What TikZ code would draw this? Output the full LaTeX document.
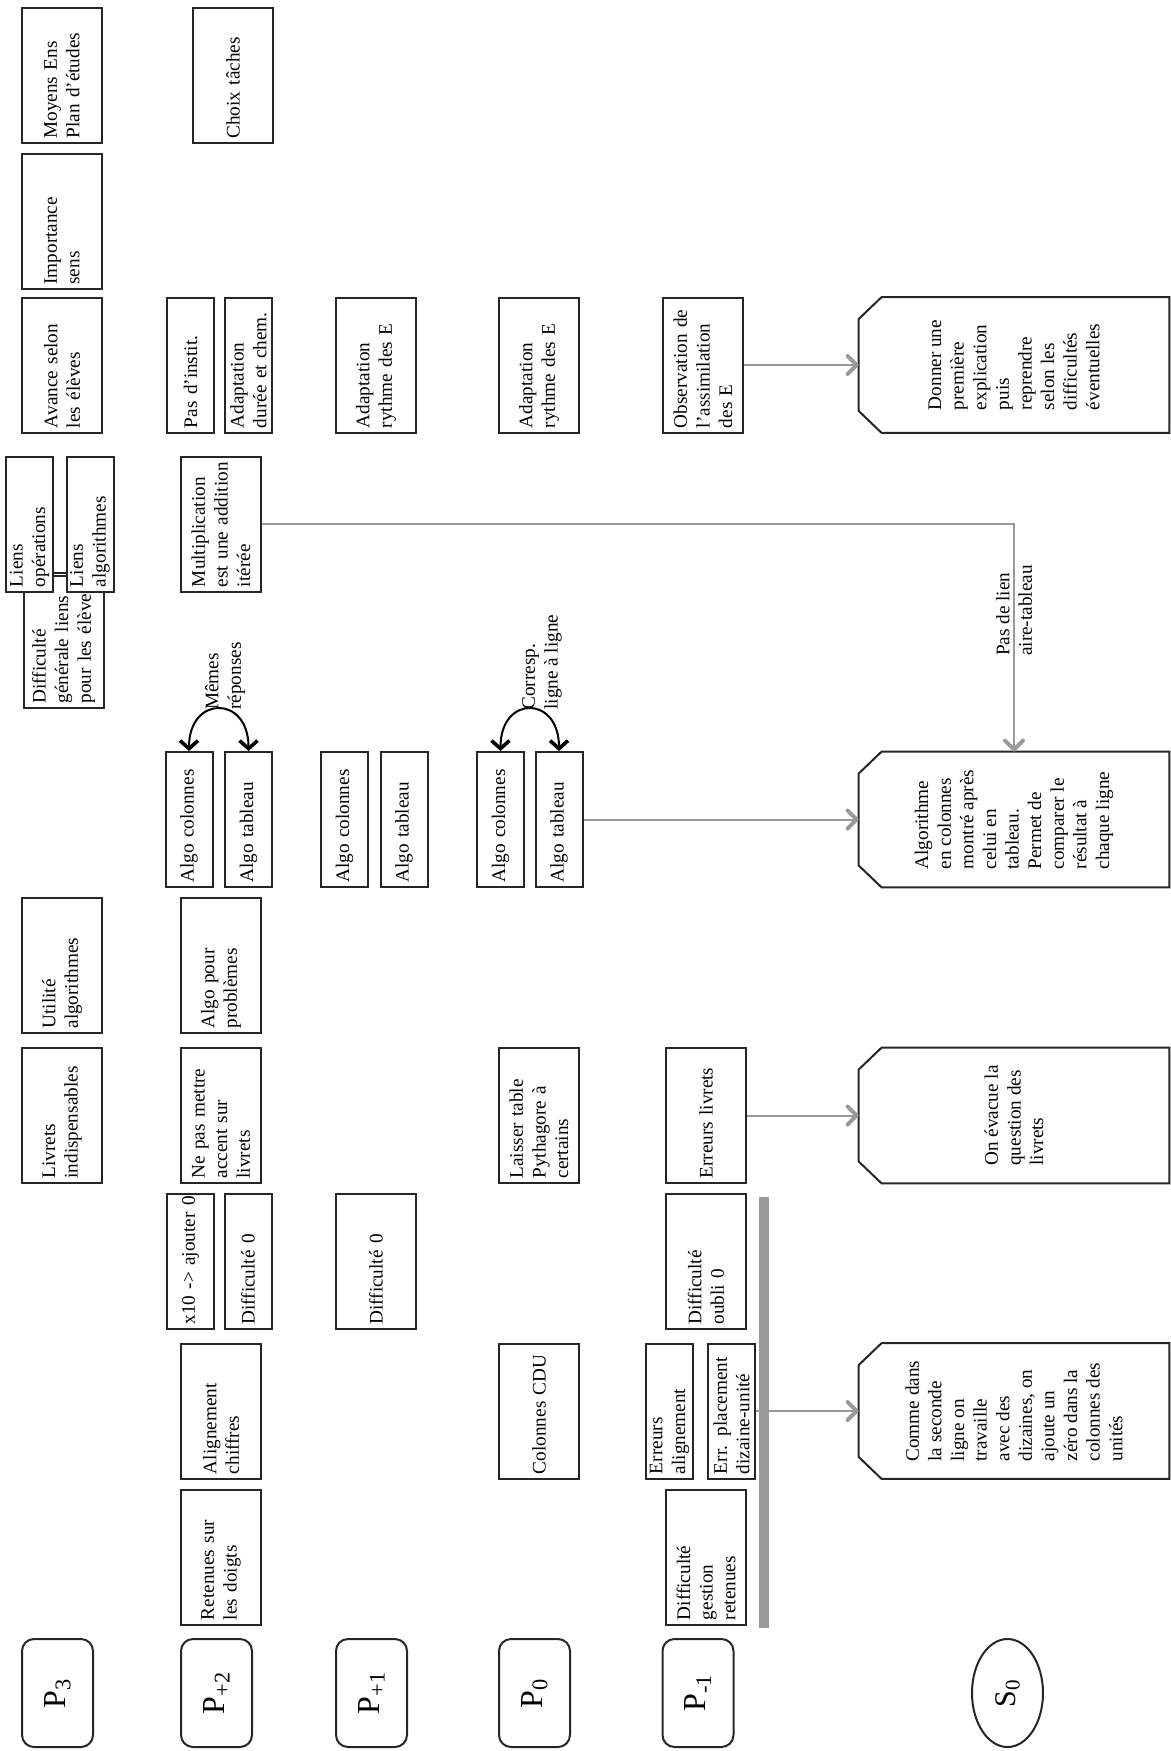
\documentclass[tikz,border=0pt]{standalone}
\usepackage{fontspec}
\setmainfont{Liberation Serif}
\usetikzlibrary{arrows.meta,calc,shapes.geometric}
\definecolor{linkgray}{gray}{0.6}
\definecolor{boxline}{gray}{0.15}

\begin{document}
\begin{tikzpicture}[x=0.5pt,y=-0.5pt,
  every node/.style={font=\fontsize{9.6}{11.3}\selectfont},
  cbox/.style={draw=boxline,line width=1pt,fill=white,rotate=90,align=left,text width=63pt,
    inner xsep=2.25pt,inner ysep=1pt,minimum width=67.5pt,minimum height=40pt},
  nbox/.style={cbox,minimum height=23.5pt},
  pbox/.style={draw=boxline,line width=1pt,rounded corners=6pt,rotate=90,
    minimum width=54pt,minimum height=35.5pt,font=\fontsize{16}{18}\selectfont},
  sbox/.style={rotate=90,align=left,minimum width=67.5pt,minimum height=155pt},
  lbl/.style={rotate=90,align=left,inner sep=1pt},
  link/.style={draw=linkgray,line width=1pt,-{Straight Barb[length=4.5pt,width=9pt,line width=2pt,round]}},
  pairarrow/.style={<->,>={Straight Barb[length=4pt,width=9pt,line width=1.8pt]},line width=1pt},
  splitbar/.style={draw=linkgray,line width=5pt}]
  \useasboundingbox (0,0) rectangle (1171,1751);

  % P3
  \node[cbox] (moy) at (62,75.5) {Moyens Ens\\Plan d’études};
  \node[cbox] (imp) at (62,221.5) {Importance\\sens};
  \node[cbox] (ava) at (62,365) {Avance selon\\les élèves};
  \node[cbox] (dgl) at (63.5,640.5) {Difficulté\\générale liens\\pour les élèves};
  \node[nbox] (lop) at (29.5,524) {Liens\\opérations};
  \node[nbox] (lal) at (90,524) {Liens\\algorithmes};
  \node[cbox] (uti) at (62,965.5) {Utilité\\algorithmes};
  \node[cbox] (liv) at (62,1115.5) {Livrets\\indispensables};
  \node[pbox] (p3) at (57.5,1693) {P\textsubscript{3}};

  % P+2
  \node[cbox] (cho) at (233,75.5) {Choix tâches};
  \node[nbox] (pin) at (190.5,365) {Pas d’instit.};
  \node[nbox] (adc) at (248.5,365) {Adaptation\\durée et chem.};
  \node[cbox] (mult) at (221,524) {Multiplication\\est une addition\\itérée};
  \node[nbox] (acB) at (189,819.5) {Algo colonnes};
  \node[nbox] (atB) at (248.5,819.5) {Algo tableau};
  \node[cbox] (apr) at (221,965.5) {Algo pour\\problèmes};
  \node[cbox] (npm) at (221,1115.5) {Ne pas mettre\\accent sur\\livrets};
  \node[nbox] (xdix) at (190.5,1261.5) {\mbox{x10 -> ajouter 0}};
  \node[nbox] (dzB) at (248,1261.5) {Difficulté 0};
  \node[cbox] (alc) at (221,1411) {Alignement\\chiffres};
  \node[cbox] (rsd) at (221,1557) {Retenues sur\\les doigts};
  \node[pbox] (p2) at (216.5,1693) {P\textsubscript{+2}};

  % P+1
  \node[cbox] (arA) at (376,365) {Adaptation\\rythme des E};
  \node[nbox] (acA) at (344.5,819.5) {Algo colonnes};
  \node[nbox] (atA) at (404,819.5) {Algo tableau};
  \node[cbox] (dzA) at (376,1261.5) {Difficulté 0};
  \node[pbox] (p1) at (371.5,1693) {P\textsubscript{+1}};

  % P0
  \node[cbox] (arO) at (539,365) {Adaptation\\rythme des E};
  \node[nbox] (acO) at (500.5,819.5) {Algo colonnes};
  \node[nbox] (atO) at (559,819.5) {Algo tableau};
  \node[cbox] (ltp) at (539,1115.5) {Laisser table\\Pythagore à\\certains};
  \node[cbox] (cdu) at (539,1411) {Colonnes CDU};
  \node[pbox] (p0) at (534.5,1693) {P\textsubscript{0}};

  % P-1
  \node[cbox] (obs) at (703,365) {Observation de\\l’assimilation\\des E};
  \node[cbox] (erl) at (706,1115.5) {Erreurs livrets};
  \node[cbox] (dob) at (706,1261.5) {Difficulté\\oubli 0};
  \node[nbox] (eal) at (669.5,1411) {Erreurs\\alignement};
  \node[nbox] (epl) at (731.5,1411) {Err. placement\\dizaine-unité};
  \node[cbox] (dgr) at (706,1557) {Difficulté\\gestion\\retenues};
  \node[pbox] (pm1) at (698,1693) {P\textsubscript{-1}};

  % S0
  \node[sbox] (s1) at (1014,365) {Donner une\\première\\explication\\puis\\reprendre\\selon les\\difficultés\\éventuelles};
  \node[sbox] (s2) at (1014,819.5) {Algorithme\\en colonnes\\montré après\\celui en\\tableau.\\Permet de\\comparer le\\résultat à\\chaque ligne};
  \node[sbox] (s3) at (1014,1115.5) {On évacue la\\question des\\livrets};
  \node[sbox] (s4) at (1014,1411) {Comme dans\\la seconde\\ligne on\\travaille\\avec des\\dizaines, on\\ajoute un\\zéro dans la\\colonnes des\\unités};
  \node[draw=boxline,line width=1pt,ellipse,rotate=90,minimum width=54pt,minimum height=35.5pt,
    font=\fontsize{15}{18}\selectfont] (s0) at (1007.5,1693) {S\textsubscript{0}};
  \foreach \s in {s1,s2,s3,s4}
    \draw[draw=boxline,line width=1pt] ([xshift=11.5pt]\s.north east) -- (\s.south east)
      -- (\s.south west) -- ([xshift=11.5pt]\s.north west) -- ([yshift=11pt]\s.north west)
      -- ([yshift=-11pt]\s.north east) -- cycle;

  % liens
  \draw[draw=boxline,line width=1pt] ($(lop.south east)!0.88!(lop.south west)$) -- ($(lal.north east)!0.88!(lal.north west)$);
  \draw[pairarrow] (acB.east) .. controls +(0,-56) and +(0,-56) .. (atB.east);
  \node[lbl,anchor=west] (memes) at (225,712) {Mêmes\\réponses};
  \draw[pairarrow] (acO.east) .. controls +(0,-56) and +(0,-56) .. (atO.east);
  \node[lbl,anchor=west] (corresp) at (542,712) {Corresp.\\ligne à ligne};
  \draw[splitbar] (764,1197) -- (764,1628);
  \draw[link] (obs) -- (s1);
  \draw[link] (mult) -| node[lbl,pos=0.69] (nolien) {Pas de lien\\aire-tableau} (s2);
  \draw[link] (atO) -- (s2);
  \draw[link] (erl) -- (s3);
  \draw[link] (epl) -- (s4);
\end{tikzpicture}
\end{document}
